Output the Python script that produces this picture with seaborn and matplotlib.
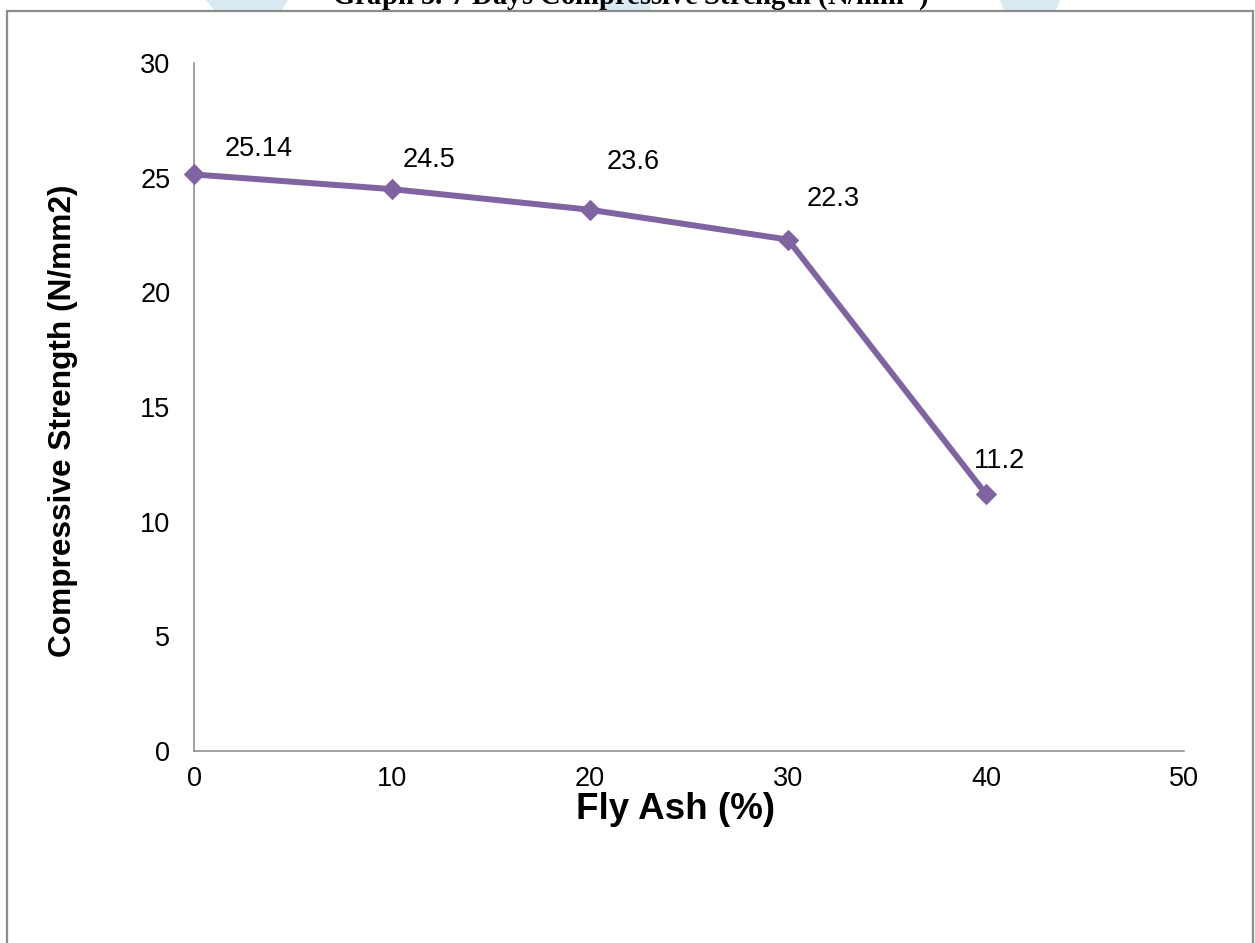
import matplotlib
matplotlib.use("Agg")
import matplotlib.pyplot as plt
from matplotlib.lines import Line2D
from matplotlib.patches import Polygon
import seaborn as sns
import pandas as pd

# ---- data ----
fly_ash = [0, 10, 20, 30, 40]
strength = [25.14, 24.5, 23.6, 22.3, 11.2]
value_labels = ["25.14", "24.5", "23.6", "22.3", "11.2"]
x_ticks = [0, 10, 20, 30, 40, 50]
y_ticks = [0, 5, 10, 15, 20, 25, 30]
title = "Graph 5: 7 Days Compressive Strength (N/mm$\\mathbf{^2}$)"
x_label = "Fly Ash (%)"
y_label = "Compressive Strength (N/mm2)"

# label offsets in pixels (dx, dy)
label_offsets = [(31, 18), (11, 22), (17, 41), (19, 34), (-12, 26)]

sns.set_style("white")
plt.rcParams["font.family"] = ["Liberation Sans", "DejaVu Sans"]

W, H = 1255, 943
fig = plt.figure(figsize=(W / 100, H / 100), dpi=100)
fig.patch.set_facecolor("white")

# light-blue watermark fragments above the frame
wm_color = "#d9e9f2"
for (x0, x1, x2, x3) in [(206, 288, 282, 214), (1000, 1060, 1056, 1004), (600, 652, 650, 604)]:
    poly = Polygon([(x0 / W, 1), (x1 / W, 1), (x2 / W, 1 - 10 / H), (x3 / W, 1 - 10 / H)],
                   closed=True, transform=fig.transFigure, facecolor=wm_color,
                   edgecolor="none", zorder=0)
    fig.add_artist(poly)

# outer frame (gray), open at bottom
fc = "#8c8c8c"
fl = dict(transform=fig.transFigure, color=fc, lw=1.6, zorder=1)
fig.add_artist(Line2D([7 / W, 1253 / W], [1 - 10.5 / H, 1 - 10.5 / H], **fl))
fig.add_artist(Line2D([7 / W, 7 / W], [0, 1 - 10.5 / H], **fl))
fig.add_artist(Line2D([1253 / W, 1253 / W], [0, 1 - 10.5 / H], **fl))

# title (cut off at top)
fig.text(630 / W, 1 - 4.5 / H, title, ha="center", va="baseline",
         fontsize=20.6, fontweight="bold", family=["Liberation Serif", "DejaVu Serif"],
         color="black", zorder=2)

left, right = 194 / W, 1184 / W
bottom, top = 1 - 751 / H, 1 - 63 / H
ax = fig.add_axes([left, bottom, right - left, top - bottom])
ax.set_facecolor("none")

df = pd.DataFrame({"fly_ash": fly_ash, "strength": strength})
line_color = "#8064a2"
sns.lineplot(data=df, x="fly_ash", y="strength", ax=ax, color=line_color,
             lw=4.3, marker="D", markersize=10, markeredgecolor=line_color,
             markerfacecolor=line_color, clip_on=False, zorder=3)

for xv, yv, lab, (dx, dy) in zip(fly_ash, strength, value_labels, label_offsets):
    ax.annotate(lab, (xv, yv), xytext=(dx, dy), textcoords="offset pixels",
                ha="left", va="baseline", fontsize=19.5, color="black")

ax.set_xlim(0, 50)
ax.set_ylim(0, 30)
ax.set_xticks(x_ticks)
ax.set_yticks(y_ticks)
ax.set_xticklabels([str(v) for v in x_ticks])
ax.set_yticklabels([str(v) for v in y_ticks])

for s in ["top", "right"]:
    ax.spines[s].set_visible(False)
for s in ["left", "bottom"]:
    ax.spines[s].set_color("#868686")
    ax.spines[s].set_linewidth(1.1)

ax.tick_params(axis="x", direction="out", length=5.5, width=1.1, color="#868686",
               labelsize=19.5, pad=5, labelcolor="black")
ax.tick_params(axis="y", length=0, labelsize=19.5, pad=17, labelcolor="black")
ax.grid(False)

ax.set_xlabel(x_label, fontsize=26.5, fontweight="bold", color="black")
ax.set_ylabel(y_label, fontsize=22.8, fontweight="bold", color="black")
ax.xaxis.set_label_coords((676 - 194) / 990, (751 - 792) / 688)
ax.yaxis.set_label_coords((78 - 194) / 990, 0.48)

fig.savefig("out.png", dpi=100)
